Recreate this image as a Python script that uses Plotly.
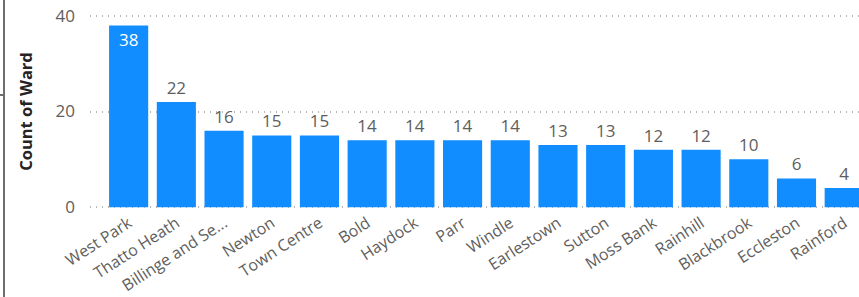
import plotly.graph_objects as go

wards = ["West Park", "Thatto Heath", "Billinge and Seneley Green", "Newton", "Town Centre",
         "Bold", "Haydock", "Parr", "Windle", "Earlestown", "Sutton", "Moss Bank",
         "Rainhill", "Blackbrook", "Eccleston", "Rainford"]
tick_labels = ["West Park", "Thatto Heath", "Billinge and Se...", "Newton", "Town Centre",
               "Bold", "Haydock", "Parr", "Windle", "Earlestown", "Sutton", "Moss Bank",
               "Rainhill", "Blackbrook", "Eccleston", "Rainford"]
counts = [38, 22, 16, 15, 15, 14, 14, 14, 14, 13, 13, 12, 12, 10, 6, 4]
y_ticks = [0, 20, 40]

label_pos = ["inside" if v >= 30 else "outside" for v in counts]

fig = go.Figure(go.Bar(
    x=list(range(len(wards))),
    y=counts,
    marker=dict(color="#118DFF", line=dict(width=0)),
    text=[str(v) for v in counts],
    textposition=label_pos,
    insidetextanchor="end",
    insidetextfont=dict(color="#FFFFFF", size=17, family="Open Sans"),
    outsidetextfont=dict(color="#605E5C", size=17, family="Open Sans"),
    cliponaxis=False,
    hovertext=wards,
))

fig.update_layout(
    width=859, height=297,
    margin=dict(l=90, r=0, t=13, b=87),
    paper_bgcolor="white", plot_bgcolor="white",
    bargap=0.18,
    showlegend=False,
    font=dict(family="Open Sans", color="#605E5C"),
)
fig.update_xaxes(
    range=[-0.81, 15.31],
    tickmode="array",
    tickvals=list(range(len(wards))),
    ticktext=tick_labels,
    tickangle=-33,
    tickfont=dict(size=16, color="#605E5C"),
    showgrid=False, zeroline=False, showline=False, ticks="",
)
fig.update_yaxes(
    range=[-0.6, 40.6],
    tickvals=y_ticks,
    tickfont=dict(size=17, color="#605E5C"),
    ticklabelstandoff=14,
    showgrid=True, gridcolor="#B8B6B4", griddash="1px,5px", gridwidth=1.5,
    zeroline=False, showline=False, ticks="",
    title=dict(text="<b>Count of Ward</b>", font=dict(size=16.5, color="#252423"), standoff=18),
)
# border artifact at left edge
fig.add_shape(type="line", xref="paper", yref="paper",
              x0=-(90 - 4) / 769, x1=-(90 - 4) / 769, y0=-87 / 197, y1=1 + 13 / 197,
              line=dict(color="#6E6E6E", width=2))
fig.add_shape(type="line", xref="paper", yref="paper",
              x0=-90 / 769, x1=-(90 - 4) / 769, y0=(210 - 95) / 197, y1=(210 - 95) / 197,
              line=dict(color="#6E6E6E", width=2))

fig.write_html("out.html", config={"displayModeBar": False},
               post_script="document.body.style.margin='0';document.body.style.overflow='hidden';")
